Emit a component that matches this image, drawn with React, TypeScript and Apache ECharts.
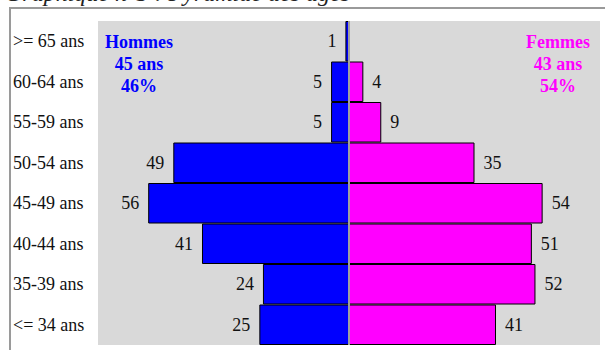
import React, { useEffect, useRef } from "react";
import * as echarts from "echarts";

const categories = ["<= 34 ans", "35-39 ans", "40-44 ans", "45-49 ans", "50-54 ans", "55-59 ans", "60-64 ans", ">= 65 ans"];
const hommes = [25, 24, 41, 56, 49, 5, 5, 1];
const femmes = [41, 52, 51, 54, 35, 9, 4, 0];
const hommesInfo = ["Hommes", "45 ans", "46%"];
const femmesInfo = ["Femmes", "43 ans", "54%"];
const title = "Graphique n°3 : Pyramide des âges";

const SERIF = "Liberation Serif";

export default function App() {
  const ref = useRef<HTMLDivElement>(null);
  useEffect(() => {
    if (!ref.current) return;
    const chart = echarts.init(ref.current, undefined, { renderer: "svg" });
    chart.setOption({
      animation: false,
      backgroundColor: "#ffffff",
      textStyle: { fontFamily: SERIF },
      grid: {
        left: 98,
        right: 5,
        top: 21,
        bottom: 5,
        show: true,
        backgroundColor: "#d9d9d9",
        borderWidth: 0,
      },
      xAxis: {
        type: "value",
        min: -70,
        max: 70,
        show: false,
      },
      yAxis: {
        type: "category",
        data: categories,
        axisLine: { show: false },
        axisTick: { show: false },
        splitLine: { show: false },
        axisLabel: {
          align: "left",
          margin: 85,
          fontFamily: SERIF,
          fontSize: 18,
          color: "#111",
        },
      },
      graphic: [
        {
          type: "rect",
          shape: { x: 10, y: 8, width: 620, height: 360 },
          style: { fill: "none", stroke: "#9a9a9a", lineWidth: 2 },
          silent: true,
          z: 100,
        },
        {
          type: "text",
          x: 5,
          y: 5,
          style: {
            text: title,
            fontFamily: SERIF,
            fontStyle: "italic",
            fontSize: 24,
            fill: "#222",
            verticalAlign: "bottom",
          },
        },
        {
          type: "text",
          x: 139,
          y: 31,
          style: {
            text: hommesInfo.join("\n"),
            fontFamily: SERIF,
            fontWeight: "bold",
            fontSize: 18,
            fill: "#0000ff",
            align: "center",
            lineHeight: 22,
          },
          z: 50,
        },
        {
          type: "text",
          x: 558,
          y: 31,
          style: {
            text: femmesInfo.join("\n"),
            fontFamily: SERIF,
            fontWeight: "bold",
            fontSize: 18,
            fill: "#ff00ff",
            align: "center",
            lineHeight: 22,
          },
          z: 50,
        },
      ],
      series: [
        {
          name: "Hommes",
          type: "bar",
          data: hommes.map((v) => -v),
          barCategoryGap: 0,
          barGap: "-100%",
          itemStyle: { color: "#0000ff", borderColor: "#000", borderWidth: 1 },
          label: {
            show: true,
            position: "left",
            distance: 9,
            fontFamily: SERIF,
            fontSize: 18,
            color: "#111",
            formatter: (p: any) => (p.value === 0 ? "" : String(Math.abs(p.value))),
          },
        },
        {
          name: "Femmes",
          type: "bar",
          data: femmes,
          barCategoryGap: 0,
          barGap: "-100%",
          itemStyle: { color: "#ff00ff", borderColor: "#000", borderWidth: 1 },
          label: {
            show: true,
            position: "right",
            distance: 9,
            fontFamily: SERIF,
            fontSize: 18,
            color: "#111",
            formatter: (p: any) => (p.value === 0 ? "" : String(p.value)),
          },
          markLine: {
            silent: true,
            symbol: "none",
            label: { show: false },
            lineStyle: { color: "#a0a0a0", width: 2, type: "solid" },
            data: [{ xAxis: 0 }],
          },
        },
      ],
    });
    return () => chart.dispose();
  }, []);
  return (
    <div
      ref={ref}
      style={{ position: "fixed", left: 0, top: 0, width: 605, height: 350 }}
    />
  );
}
